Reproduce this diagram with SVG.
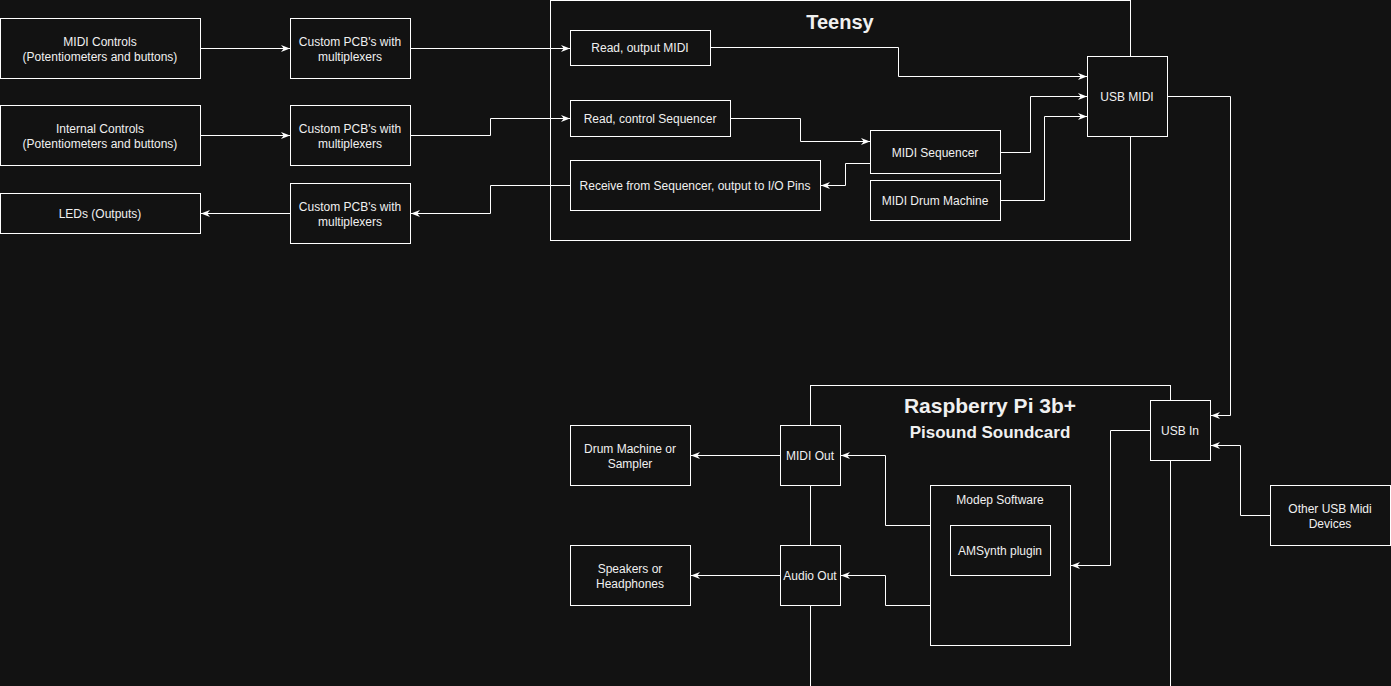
<svg xmlns="http://www.w3.org/2000/svg" width="1391" height="686" viewBox="0 0 1391 686">
<style>
.n{fill:#121212;stroke:#ffffff;stroke-width:1}
.t{fill:#f0f0f0;font-family:"Liberation Sans",Arial,sans-serif;font-size:12px;text-anchor:middle}
.h{fill:#f0f0f0;font-family:"Liberation Sans",Arial,sans-serif;font-weight:bold;text-anchor:middle}
.e{fill:none;stroke:#ffffff;stroke-width:1}
</style>
<defs>
<marker id="a" viewBox="0 0 10 10" refX="10" refY="5" markerWidth="9" markerHeight="9" markerUnits="userSpaceOnUse" orient="auto">
<path d="M0,1 L10,5 L0,9 L3,5 z" fill="#ffffff"/>
</marker>
</defs>
<rect width="1391" height="686" fill="#121212"/>

<g id="teensy"><rect class="n" x="550.5" y="0.5" width="580" height="240"/><text class="h" x="840" y="29" font-size="20">Teensy</text></g>
<g id="raspberry"><rect class="n" x="810.5" y="385.5" width="360" height="320"/><text class="h" x="990" y="413" font-size="21">Raspberry Pi 3b+</text><text class="h" x="990" y="438" font-size="17">Pisound Soundcard</text></g>

<g id="connectors">
<path class="e" d="M200.5,48.5 H290" marker-end="url(#a)"/>
<path class="e" d="M410.5,48.5 H570" marker-end="url(#a)"/>
<path class="e" d="M200.5,135.5 H290" marker-end="url(#a)"/>
<path class="e" d="M410.5,135.5 H490.5 V118.5 H570" marker-end="url(#a)"/>
<path class="e" d="M570.5,185.5 H490.5 V213.5 H411" marker-end="url(#a)"/>
<path class="e" d="M290.5,213.5 H201" marker-end="url(#a)"/>
<path class="e" d="M710.5,47.5 H898.5 V76.5 H1087" marker-end="url(#a)"/>
<path class="e" d="M730.5,118.5 H800.5 V141.5 H870" marker-end="url(#a)"/>
<path class="e" d="M870.5,163.5 H845.5 V185.5 H821" marker-end="url(#a)"/>
<path class="e" d="M1000.5,152.5 H1030.5 V96.5 H1087" marker-end="url(#a)"/>
<path class="e" d="M1000.5,200.5 H1044.5 V116.5 H1087" marker-end="url(#a)"/>
<path class="e" d="M1167.5,96.5 H1230.5 V415.5 H1211" marker-end="url(#a)"/>
<path class="e" d="M1270.5,515.5 H1240.5 V445.5 H1211" marker-end="url(#a)"/>
<path class="e" d="M1150.5,430.5 H1110.5 V565.5 H1071" marker-end="url(#a)"/>
<path class="e" d="M930.5,525.5 H885.5 V455.5 H841" marker-end="url(#a)"/>
<path class="e" d="M930.5,605.5 H885.5 V575.5 H841" marker-end="url(#a)"/>
<path class="e" d="M780.5,455.5 H691" marker-end="url(#a)"/>
<path class="e" d="M780.5,575.5 H691" marker-end="url(#a)"/>
</g>

<g id="midi-controls"><rect class="n" x="0.5" y="18.5" width="200" height="60"/><text class="t" x="100" y="46">MIDI Controls</text><text class="t" x="100" y="61">(Potentiometers and buttons)</text></g>
<g id="internal-controls"><rect class="n" x="0.5" y="105.5" width="200" height="60"/><text class="t" x="100" y="133">Internal Controls</text><text class="t" x="100" y="148">(Potentiometers and buttons)</text></g>
<g id="leds"><rect class="n" x="0.5" y="193.5" width="200" height="40"/><text class="t" x="100" y="218">LEDs (Outputs)</text></g>
<g id="pcb1"><rect class="n" x="290.5" y="18.5" width="120" height="60"/><text class="t" x="350" y="46">Custom PCB's with</text><text class="t" x="350" y="61">multiplexers</text></g>
<g id="pcb2"><rect class="n" x="290.5" y="105.5" width="120" height="60"/><text class="t" x="350" y="133">Custom PCB's with</text><text class="t" x="350" y="148">multiplexers</text></g>
<g id="pcb3"><rect class="n" x="290.5" y="183.5" width="120" height="60"/><text class="t" x="350" y="211">Custom PCB's with</text><text class="t" x="350" y="226">multiplexers</text></g>
<g id="read-output-midi"><rect class="n" x="570.5" y="30.5" width="140" height="35"/><text class="t" x="640" y="52">Read, output MIDI</text></g>
<g id="read-control-seq"><rect class="n" x="570.5" y="100.5" width="160" height="36"/><text class="t" x="650" y="123">Read, control Sequencer</text></g>
<g id="receive"><rect class="n" x="570.5" y="160.5" width="250" height="50"/><text class="t" x="695" y="190">Receive from Sequencer, output to I/O Pins</text></g>
<g id="midi-sequencer"><rect class="n" x="870.5" y="130.5" width="130" height="43"/><text class="t" x="935" y="157">MIDI Sequencer</text></g>
<g id="midi-drum"><rect class="n" x="870.5" y="180.5" width="130" height="40"/><text class="t" x="935" y="205">MIDI Drum Machine</text></g>
<g id="usb-midi"><rect class="n" x="1087.5" y="56.5" width="80" height="80"/><text class="t" x="1127" y="101">USB MIDI</text></g>

<g id="usb-in"><rect class="n" x="1150.5" y="400.5" width="60" height="60"/><text class="t" x="1180" y="435">USB In</text></g>
<g id="other-usb"><rect class="n" x="1270.5" y="485.5" width="120" height="60"/><text class="t" x="1330" y="513">Other USB Midi</text><text class="t" x="1330" y="528">Devices</text></g>
<g id="modep"><rect class="n" x="930.5" y="485.5" width="140" height="160"/><text class="t" x="1000" y="504">Modep Software</text></g>
<g id="amsynth"><rect class="n" x="950.5" y="525.5" width="100" height="50"/><text class="t" x="1000" y="555">AMSynth plugin</text></g>
<g id="midi-out"><rect class="n" x="780.5" y="425.5" width="60" height="60"/><text class="t" x="810" y="460">MIDI Out</text></g>
<g id="audio-out"><rect class="n" x="780.5" y="545.5" width="60" height="60"/><text class="t" x="810" y="580">Audio Out</text></g>
<g id="drum-sampler"><rect class="n" x="570.5" y="425.5" width="120" height="60"/><text class="t" x="630" y="453">Drum Machine or</text><text class="t" x="630" y="468">Sampler</text></g>
<g id="speakers"><rect class="n" x="570.5" y="545.5" width="120" height="60"/><text class="t" x="630" y="573">Speakers or</text><text class="t" x="630" y="588">Headphones</text></g>
</svg>
